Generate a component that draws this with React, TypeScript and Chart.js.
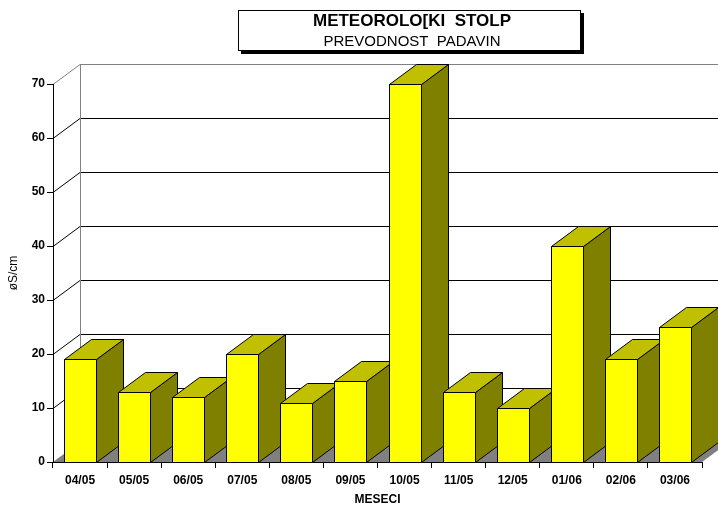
import React, { useEffect, useRef } from "react";
import { Chart, registerables } from "chart.js";

Chart.register(...registerables);

const categories = ["04/05", "05/05", "06/05", "07/05", "08/05", "09/05", "10/05", "11/05", "12/05", "01/06", "02/06", "03/06"];
const values = [19, 13, 12, 20, 11, 15, 70, 13, 10, 40, 19, 25];
const yMin = 0;
const yMax = 70;
const yStep = 10;
const chartTitle = "METEOROLO[KI  STOLP";
const chartSubtitle = "PREVODNOST  PADAVIN";
const xTitle = "MESECI";
const yTitle = "øS/cm";

const FONT = '"Liberation Sans", Arial, Helvetica, sans-serif';
const DX = 27;
const DY = -20;
const FRONT = "#FFFF00";
const TOPC = "#C0C000";
const SIDE = "#808000";
const FLOOR = "#808080";

const wallsPlugin = {
  id: "walls3d",
  beforeDraw(chart: any) {
    const { ctx, chartArea, scales } = chart;
    const { left, right, top, bottom } = chartArea;
    const y = scales.y;
    ctx.save();
    ctx.fillStyle = "#ffffff";
    ctx.fillRect(0, 0, chart.width, chart.height);
    ctx.fillStyle = FLOOR;
    ctx.beginPath();
    ctx.moveTo(left, bottom);
    ctx.lineTo(right, bottom);
    ctx.lineTo(right + DX, bottom + DY);
    ctx.lineTo(left + DX, bottom + DY);
    ctx.closePath();
    ctx.fill();
    ctx.lineWidth = 1;
    y.ticks.forEach((t: any) => {
      if (t.value === yMin) return;
      const py = Math.round(y.getPixelForValue(t.value)) + 0.5;
      ctx.strokeStyle = t.value === yMax ? "#808080" : "#000000";
      ctx.beginPath();
      ctx.moveTo(left, py);
      ctx.lineTo(left + DX, py + DY);
      ctx.lineTo(chart.width, py + DY);
      ctx.stroke();
    });
    const bx = Math.round(left + DX) + 0.5;
    ctx.strokeStyle = "#808080";
    ctx.beginPath();
    ctx.moveTo(bx, Math.round(top) + 0.5 + DY);
    ctx.lineTo(bx, Math.round(bottom) + 0.5 + DY);
    ctx.stroke();
    ctx.restore();
  },
};

const bars3dPlugin = {
  id: "bars3d",
  afterDatasetsDraw(chart: any) {
    const { ctx } = chart;
    const meta = chart.getDatasetMeta(0);
    ctx.save();
    ctx.lineWidth = 1;
    ctx.strokeStyle = "#000000";
    ctx.lineJoin = "miter";
    const poly = (pts: number[][], fill: string) => {
      ctx.beginPath();
      ctx.moveTo(pts[0][0], pts[0][1]);
      for (let i = 1; i < pts.length; i++) ctx.lineTo(pts[i][0], pts[i][1]);
      ctx.closePath();
      ctx.fillStyle = fill;
      ctx.fill();
      ctx.stroke();
    };
    meta.data.forEach((el: any) => {
      const { x, y, base, width } = el.getProps(["x", "y", "base", "width"], true);
      const xl = Math.round(x - width / 2) + 0.5;
      const xr = Math.round(x + width / 2) + 0.5;
      const yt = Math.round(y) + 0.5;
      const yb = Math.round(base) + 0.5;
      poly([[xr, yt], [xr + DX, yt + DY], [xr + DX, yb + DY], [xr, yb]], SIDE);
      poly([[xl, yt], [xl + DX, yt + DY], [xr + DX, yt + DY], [xr, yt]], TOPC);
      poly([[xl, yt], [xr, yt], [xr, yb], [xl, yb]], FRONT);
    });
    ctx.restore();
  },
};

const titleBoxPlugin = {
  id: "titleBox",
  afterDraw(chart: any) {
    const { ctx } = chart;
    ctx.save();
    ctx.fillStyle = "#000000";
    ctx.fillRect(241, 13, 343, 41);
    ctx.fillStyle = "#ffffff";
    ctx.fillRect(238, 10, 343, 41);
    ctx.strokeStyle = "#000000";
    ctx.lineWidth = 1;
    ctx.strokeRect(238.5, 10.5, 342, 40);
    ctx.fillStyle = "#000000";
    ctx.textAlign = "center";
    ctx.textBaseline = "middle";
    ctx.font = `bold 17px ${FONT}`;
    ctx.fillText(chartTitle, 412, 21.5);
    ctx.font = `15px ${FONT}`;
    ctx.fillText(chartSubtitle, 412, 41.5);
    ctx.restore();
  },
};

export default function App() {
  const ref = useRef<HTMLCanvasElement>(null);
  useEffect(() => {
    if (!ref.current) return;
    Chart.defaults.font.family = FONT;
    Chart.defaults.color = "#000000";
    const chart = new Chart(ref.current, {
      type: "bar",
      data: {
        labels: categories,
        datasets: [
          {
            data: values,
            backgroundColor: "rgba(0,0,0,0)",
            borderWidth: 0,
            categoryPercentage: 1,
            barPercentage: 0.592,
          },
        ],
      },
      options: {
        animation: false,
        responsive: false,
        devicePixelRatio: 1,
        layout: { padding: { left: 0, right: 16, top: 84, bottom: 0 } },
        plugins: { legend: { display: false }, tooltip: { enabled: false }, title: { display: false } },
        scales: {
          x: {
            type: "category",
            offset: true,
            grid: { display: true, offset: true, drawOnChartArea: false, drawTicks: true, tickLength: 6, color: "#000000" },
            border: { display: true, color: "#000000", width: 1 },
            ticks: { autoSkip: false, maxRotation: 0, minRotation: 0, padding: 5, font: { size: 12, weight: "bold" }, color: "#000000" },
            title: { display: true, text: xTitle, font: { size: 12, weight: "bold", lineHeight: 1 }, padding: { top: 0, bottom: 0 }, color: "#000000" },
            afterFit: (s: any) => {
              s.height = 44;
            },
          },
          y: {
            min: yMin,
            max: yMax,
            grid: { display: true, drawOnChartArea: false, drawTicks: true, tickLength: 6, color: "#000000" },
            border: { display: true, color: "#000000", width: 1 },
            ticks: { stepSize: yStep, padding: 2, font: { size: 12, weight: "bold" }, color: "#000000" },
            title: { display: true, text: yTitle, font: { size: 12, lineHeight: 1 }, padding: { top: 8, bottom: 0 }, color: "#000000" },
            afterFit: (s: any) => {
              s.width = 53;
            },
          },
        },
      },
      plugins: [wallsPlugin, bars3dPlugin, titleBoxPlugin],
    } as any);
    return () => chart.destroy();
  }, []);
  return (
    <div style={{ position: "absolute", left: 0, top: 0, width: 718, height: 506 }}>
      <canvas ref={ref} width={718} height={506} style={{ display: "block" }} />
    </div>
  );
}
